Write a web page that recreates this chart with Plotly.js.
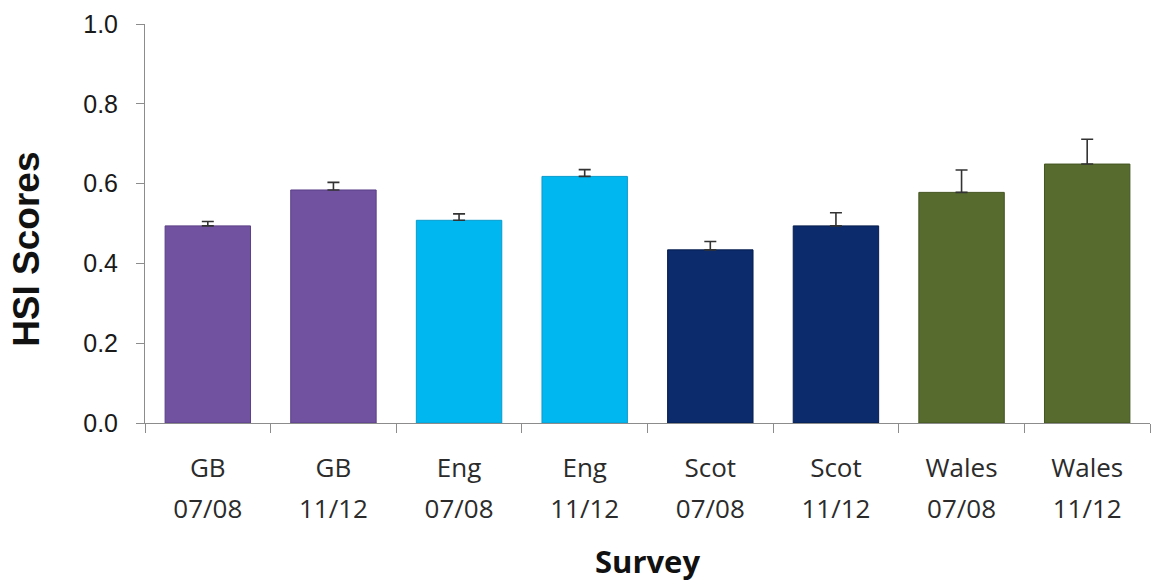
<!DOCTYPE html>
<html>
<head>
<meta charset="utf-8">
<script src="https://cdn.plot.ly/plotly-3.0.1.min.js"></script>
<style>html,body{margin:0;padding:0;background:#fff;}#chart{width:1162px;height:582px;}</style>
</head>
<body>
<div id="chart"></div>
<script>
// Data
const regions = ["GB", "GB", "Eng", "Eng", "Scot", "Scot", "Wales", "Wales"];
const surveys = ["07/08", "11/12", "07/08", "11/12", "07/08", "11/12", "07/08", "11/12"];
const hsiScores = [0.494, 0.584, 0.508, 0.618, 0.434, 0.494, 0.578, 0.649];
const errorsUp = [0.011, 0.019, 0.016, 0.017, 0.021, 0.033, 0.056, 0.062];
const barColors = ["#7052a0", "#7052a0", "#00b8ef", "#00b8ef", "#0b2b6c", "#0b2b6c", "#576b2e", "#576b2e"];
const barEdges = ["#5a3f86", "#5a3f86", "#0a9bcc", "#0a9bcc", "#071e4e", "#071e4e", "#43541f", "#43541f"];
const yTickVals = [0, 0.2, 0.4, 0.6, 0.8, 1.0];

const cats = regions.map((r, i) => r + " " + surveys[i]);
const tickText = regions.map((r, i) =>
  '<span style="font-size:26px">' + r + '</span><br><span style="font-size:26px">' + surveys[i] + '</span>');

const trace = {
  type: "bar",
  x: cats,
  y: hsiScores,
  marker: { color: barColors, line: { color: barEdges, width: 1 } },
  error_y: {
    type: "data",
    symmetric: false,
    array: errorsUp,
    arrayminus: errorsUp.map(() => 0),
    color: "#333333",
    thickness: 1.6,
    width: 6
  },
  hoverinfo: "x+y"
};

const layout = {
  width: 1162,
  height: 582,
  margin: { l: 145, r: 12, t: 24, b: 159 },
  paper_bgcolor: "#ffffff",
  plot_bgcolor: "#ffffff",
  showlegend: false,
  bargap: 0.32,
  xaxis: {
    type: "category",
    tickvals: cats,
    ticktext: tickText,
    tickson: "boundaries",
    ticks: "outside",
    ticklen: 9,
    tickcolor: "#8c8c8c",
    showline: true,
    linecolor: "#8c8c8c",
    linewidth: 1,
    showgrid: false,
    zeroline: false,
    ticklabelstandoff: 16,
    tickfont: { family: "Open Sans, sans-serif", size: 31, color: "#2b2b2b" },
    title: {
      text: "<b>Survey</b>",
      font: { family: "Open Sans, sans-serif", size: 31, color: "#111111" },
      standoff: 28
    }
  },
  yaxis: {
    range: [0, 1],
    tickvals: yTickVals,
    tickformat: ".1f",
    ticks: "outside",
    ticklen: 8,
    tickcolor: "#8c8c8c",
    showline: true,
    linecolor: "#8c8c8c",
    linewidth: 1,
    showgrid: false,
    zeroline: false,
    ticklabelstandoff: 13,
    tickfont: { family: "Liberation Sans, Arial, sans-serif", size: 25, color: "#1a1a1a" }
  },
  annotations: [{
    text: "<b>HSI Scores</b>",
    xref: "paper", yref: "paper",
    x: -0.1174, y: 0.434,
    xanchor: "center", yanchor: "middle",
    textangle: -90,
    showarrow: false,
    font: { family: "Liberation Sans, Arial, sans-serif", size: 37, color: "#111111" }
  }]
};

Plotly.newPlot("chart", [trace], layout, { displayModeBar: false, staticPlot: true });
</script>
</body>
</html>
